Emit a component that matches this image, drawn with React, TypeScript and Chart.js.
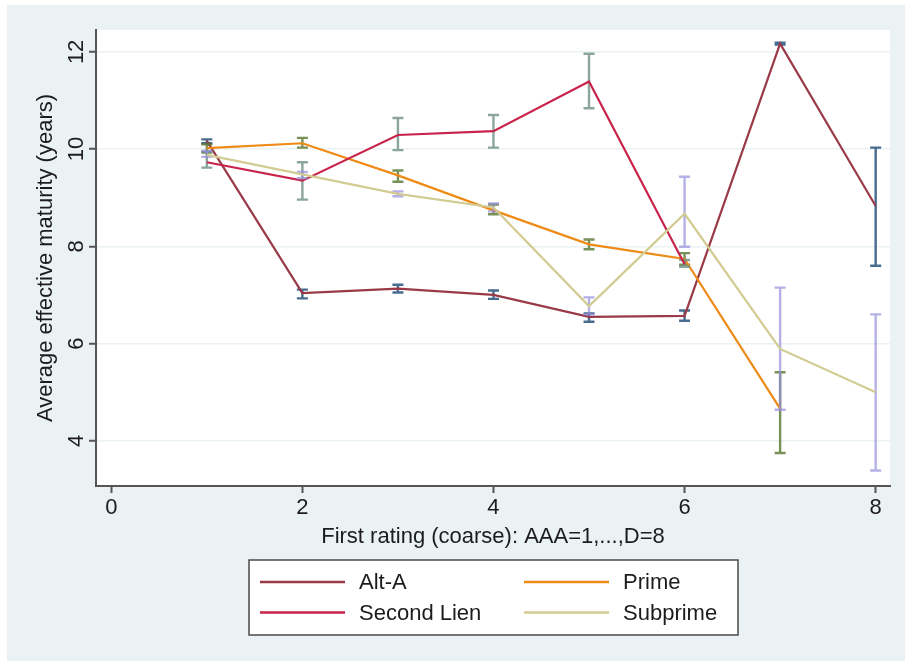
import React, { useEffect, useRef } from "react";
import { Chart, registerables } from "chart.js";

Chart.register(...registerables);

// ---------- data ----------
const ratings = [1, 2, 3, 4, 5, 6, 7, 8];
const seriesNames = ["Alt-A", "Prime", "Second Lien", "Subprime"];

const altA = [10.17, 7.04, 7.13, 7.0, 6.55, 6.57, 12.17, 8.83];
const altALo = [10.12, 6.93, 7.05, 6.92, 6.45, 6.47, 12.15, 7.6];
const altAHi = [10.2, 7.11, 7.21, 7.09, 6.62, 6.68, 12.19, 10.03];

const prime = [10.02, 10.12, 9.46, 8.74, 8.04, 7.74, 4.66];
const primeLo = [9.93, 10.03, 9.33, 8.66, 7.94, 7.62, 3.75];
const primeHi = [10.1, 10.23, 9.56, 8.86, 8.14, 7.86, 5.41];

const secondLien = [9.73, 9.35, 10.29, 10.37, 11.39, 7.63];
const secondLienLo = [9.62, 8.96, 9.98, 10.03, 10.84, 7.58];
const secondLienHi = [9.95, 9.73, 10.64, 10.7, 11.96, 7.72];

const subprime = [9.88, 9.48, 9.08, 8.8, 6.77, 8.67, 5.89, 5.0];
const subprimeLo = [9.84, 9.4, 9.03, 8.72, 6.6, 7.99, 4.64, 3.39];
const subprimeHi = [9.96, 9.53, 9.13, 8.88, 6.95, 9.43, 7.15, 6.6];

const xTicks = [0, 2, 4, 6, 8];
const yTicks = [4, 6, 8, 10, 12];
const xTitle = "First rating (coarse): AAA=1,...,D=8";
const yTitle = "Average effective maturity (years)";

// ---------- styles ----------
const lineColors = ["#9a3a48", "#ee8a16", "#c8234b", "#d2cb92"];
const ciColors = ["rgba(40,82,125,0.85)", "rgba(85,117,47,0.8)", "rgba(110,142,132,0.8)", "rgba(150,142,220,0.7)"];
const FONT = "'Liberation Sans', Arial, Helvetica, sans-serif";
const FS = 22;
const BG = "#eaf2f3";
const TEXT = "#1c1c1c";
const AXIS = "#555555";

const toPts = (vals: number[]) => vals.map((v, i) => ({ x: ratings[i], y: v }));

const bgPlugin = {
  id: "bgPlugin",
  beforeDraw(chart: any) {
    const { ctx, chartArea, width, height } = chart;
    ctx.save();
    ctx.fillStyle = BG;
    ctx.fillRect(0, 0, width, height);
    ctx.fillStyle = "#ffffff";
    ctx.fillRect(chartArea.left, chartArea.top, chartArea.right - chartArea.left, chartArea.bottom - chartArea.top);
    ctx.restore();
  },
};

const ciPlugin = {
  id: "ciPlugin",
  beforeDatasetDraw(chart: any, args: any) {
    const ds = chart.data.datasets[args.index];
    if (!ds.ciLo) return;
    const { ctx, chartArea } = chart;
    const xs = chart.scales.x;
    const ys = chart.scales.y;
    ctx.save();
    ctx.beginPath();
    ctx.rect(chartArea.left, chartArea.top, chartArea.right - chartArea.left, chartArea.bottom - chartArea.top);
    ctx.clip();
    ctx.strokeStyle = ds.ciColor;
    ctx.lineWidth = 2.4;
    ctx.lineCap = "butt";
    ctx.beginPath();
    ds.ciLo.forEach((lo: number, i: number) => {
      const hi = ds.ciHi[i];
      const px = xs.getPixelForValue(ratings[i]);
      const p1 = ys.getPixelForValue(lo);
      const p2 = ys.getPixelForValue(hi);
      ctx.moveTo(px, p1);
      ctx.lineTo(px, p2);
      ctx.moveTo(px - 5.5, p1);
      ctx.lineTo(px + 5.5, p1);
      ctx.moveTo(px - 5.5, p2);
      ctx.lineTo(px + 5.5, p2);
    });
    ctx.stroke();
    ctx.restore();
  },
};

const legendPlugin = {
  id: "boxLegend",
  afterDraw(chart: any) {
    const { ctx } = chart;
    const bx = 242, by = 555, bw = 489, bh = 75;
    ctx.save();
    ctx.fillStyle = "#ffffff";
    ctx.fillRect(bx, by, bw, bh);
    ctx.strokeStyle = "#4a4a4a";
    ctx.lineWidth = 1.5;
    ctx.strokeRect(bx, by, bw, bh);
    const colX = [253, 517];
    const rowY = [577, 607.5];
    ctx.font = `${FS}px ${FONT}`;
    ctx.textBaseline = "middle";
    ctx.textAlign = "left";
    chart.data.datasets.forEach((ds: any, i: number) => {
      const c = i % 2;
      const r = Math.floor(i / 2);
      ctx.strokeStyle = ds.borderColor;
      ctx.lineWidth = 2.5;
      ctx.beginPath();
      ctx.moveTo(colX[c], rowY[r]);
      ctx.lineTo(colX[c] + 85, rowY[r]);
      ctx.stroke();
      ctx.fillStyle = TEXT;
      ctx.fillText(ds.label, colX[c] + 99, rowY[r] + 1);
    });
    ctx.restore();
  },
};

export default function App() {
  const ref = useRef<HTMLCanvasElement | null>(null);

  useEffect(() => {
    if (!ref.current) return;
    Chart.defaults.font.family = FONT;
    const values = [altA, prime, secondLien, subprime];
    const los = [altALo, primeLo, secondLienLo, subprimeLo];
    const his = [altAHi, primeHi, secondLienHi, subprimeHi];
    const datasets: any[] = seriesNames.map((name, i) => ({
      label: name,
      data: toPts(values[i]),
      borderColor: lineColors[i],
      backgroundColor: lineColors[i],
      borderWidth: 2.2,
      pointRadius: 0,
      tension: 0,
      fill: false,
      order: 4 - i,
      ciLo: los[i],
      ciHi: his[i],
      ciColor: ciColors[i],
    }));

    const chart = new Chart(ref.current, {
      type: "line",
      data: { datasets },
      plugins: [bgPlugin, ciPlugin, legendPlugin],
      options: {
        responsive: false,
        animation: false,
        layout: { padding: { left: 0, top: 25, right: 15, bottom: 105 } },
        plugins: { legend: { display: false }, tooltip: { enabled: false } },
        scales: {
          x: {
            type: "linear",
            min: -0.16,
            max: 8.15,
            afterBuildTicks: (s: any) => {
              s.ticks = xTicks.map((v) => ({ value: v }));
            },
            afterFit: (s: any) => {
              s.height = 70;
            },
            ticks: {
              color: TEXT,
              font: { size: FS },
              padding: 2,
              autoSkip: false,
              maxRotation: 0,
              callback: (v: any) => String(v),
            },
            grid: { drawOnChartArea: false, tickLength: 7, tickColor: AXIS, tickWidth: 2 },
            border: { color: AXIS, width: 2 },
            title: { display: true, text: xTitle, color: TEXT, font: { size: FS }, padding: { top: 0, bottom: 6 } },
          },
          y: {
            type: "linear",
            min: 3.07,
            max: 12.45,
            afterBuildTicks: (s: any) => {
              s.ticks = yTicks.map((v) => ({ value: v }));
            },
            afterFit: (s: any) => {
              s.width = 89;
            },
            ticks: {
              color: TEXT,
              font: { size: FS },
              padding: 0,
              minRotation: 90,
              maxRotation: 90,
              crossAlign: "center",
              callback: (v: any) => String(v),
            },
            grid: { color: BG, lineWidth: 1.5, tickLength: 7, tickColor: AXIS, tickWidth: 2 },
            border: { color: AXIS, width: 2 },
            title: { display: true, text: yTitle, color: TEXT, font: { size: FS }, padding: { top: 26, bottom: 0 } },
          },
        },
      } as any,
    });
    return () => chart.destroy();
  }, []);

  return (
    <div style={{ position: "absolute", left: 7, top: 5, width: 898, height: 656 }}>
      <canvas ref={ref} width={898} height={656} style={{ display: "block" }} />
    </div>
  );
}
